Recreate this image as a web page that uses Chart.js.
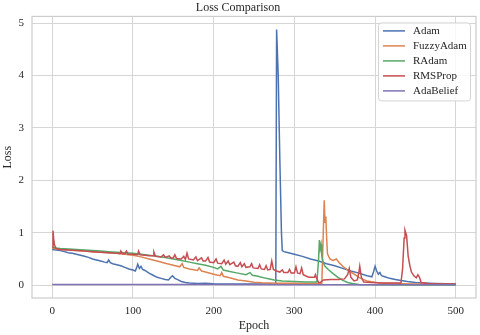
<!DOCTYPE html>
<html>
<head>
<meta charset="utf-8">
<script src="https://cdn.jsdelivr.net/npm/chart.js@4/dist/chart.umd.min.js"></script>
<style>
  html, body { margin: 0; padding: 0; background: #fff; }
</style>
</head>
<body>
<canvas id="chart" width="480" height="335"></canvas>
<script>
const seriesNames = ["Adam", "FuzzyAdam", "RAdam", "RMSProp", "AdaBelief"]
const seriesColors = ["#4c72b0", "#dd8452", "#55a868", "#c44e52", "#8172b3"]
const xTicks = [0, 100, 200, 300, 400, 500]
const yTicks = [0, 1, 2, 3, 4, 5]

const adamEpochs = [0,5,10,15,20,25,30,35,40,45,50,55,60,65,68,70,72,75,80,85,90,95,100,103,105,106,108,110,112,115,120,125,130,135,140,144,147,149,152,156,160,165,170,180,190,195,200,220,240,260,276,277,278,280,282,284,285,287,290,300,310,320,330,340,350,360,370,380,390,396,398,400,402,404,406,408,412,418,425,432,440,450,460,475,490,500]
const adamLoss = [0.68,0.67,0.66,0.64,0.62,0.61,0.59,0.57,0.55,0.53,0.50,0.48,0.46,0.44,0.43,0.48,0.43,0.41,0.39,0.37,0.34,0.31,0.29,0.27,0.35,0.40,0.32,0.36,0.30,0.28,0.23,0.19,0.15,0.13,0.11,0.10,0.15,0.18,0.13,0.10,0.07,0.05,0.04,0.03,0.035,0.03,0.025,0.02,0.02,0.02,0.02,0.03,4.88,4.0,2.4,1.0,0.66,0.64,0.63,0.59,0.55,0.50,0.46,0.41,0.37,0.32,0.27,0.23,0.18,0.16,0.25,0.36,0.27,0.21,0.24,0.18,0.16,0.13,0.11,0.09,0.07,0.05,0.04,0.03,0.025,0.02]

const fuzzyEpochs = [0,5,10,20,30,40,50,60,70,80,90,100,110,120,130,140,150,158,161,163,170,180,182,185,190,200,208,210,212,220,230,240,250,260,270,280,300,320,334,336,337,338,339,340,341,344,348,352,356,360,365,370,375,380,385,390,398,405,420,450,500]
const fuzzyLoss = [0.71,0.69,0.68,0.67,0.66,0.65,0.64,0.63,0.62,0.61,0.59,0.57,0.54,0.50,0.46,0.42,0.38,0.35,0.41,0.34,0.31,0.28,0.33,0.27,0.25,0.21,0.18,0.24,0.17,0.14,0.10,0.08,0.055,0.045,0.04,0.035,0.035,0.03,0.03,1.1,1.62,1.2,1.31,0.9,0.6,0.5,0.47,0.5,0.42,0.36,0.30,0.25,0.20,0.15,0.11,0.08,0.06,0.04,0.03,0.02,0.015]

const radamEpochs = [0,5,10,20,30,40,50,60,70,80,90,100,110,120,130,140,150,160,170,180,190,200,205,209,212,220,230,240,245,248,255,265,275,285,300,315,328,330,331,332,333,334,336,338,342,348,354,360,366,372,380,400,450,500]
const radamLoss = [0.73,0.71,0.70,0.69,0.68,0.67,0.66,0.65,0.64,0.63,0.62,0.61,0.59,0.57,0.55,0.53,0.50,0.47,0.44,0.41,0.38,0.34,0.31,0.36,0.29,0.26,0.23,0.20,0.24,0.19,0.17,0.13,0.10,0.08,0.07,0.06,0.06,0.5,0.86,0.7,0.78,0.55,0.42,0.36,0.3,0.22,0.15,0.09,0.05,0.03,0.015,0.008,0.005,0.003]

const rmsEpochs = [0,1,2,3,5,10,20,30,40,50,60,70,80,84,85,87,90,92,94,100,106,107,109,115,120,125,126,128,135,138,140,145,147,150,152,154,160,163,165,167,169,175,178,180,185,187,190,193,195,200,203,205,210,213,215,218,220,225,227,230,233,235,238,240,245,247,249,255,257,259,263,265,267,270,272,274,278,282,285,287,292,294,296,300,302,304,307,309,311,315,318,325,326,328,330,332,336,345,355,362,366,368,370,374,378,380,381,383,386,395,410,425,432,434,436,437,439,441,443,445,448,451,453,455,457,465,480,500]
const rmsLoss = [0.72,1.04,0.86,0.76,0.70,0.68,0.67,0.66,0.65,0.64,0.63,0.62,0.61,0.60,0.65,0.60,0.60,0.65,0.59,0.59,0.58,0.65,0.58,0.57,0.56,0.56,0.63,0.55,0.54,0.58,0.53,0.56,0.52,0.52,0.58,0.51,0.50,0.55,0.49,0.61,0.50,0.48,0.54,0.47,0.52,0.46,0.46,0.53,0.44,0.43,0.50,0.42,0.41,0.48,0.40,0.46,0.39,0.44,0.37,0.36,0.43,0.35,0.41,0.34,0.35,0.41,0.33,0.32,0.39,0.31,0.30,0.37,0.29,0.30,0.46,0.30,0.27,0.25,0.29,0.24,0.24,0.30,0.23,0.23,0.35,0.23,0.22,0.33,0.20,0.17,0.15,0.15,0.20,0.12,0.05,0.05,0.10,0.11,0.11,0.12,0.20,0.32,0.15,0.08,0.10,0.25,0.36,0.15,0.06,0.05,0.04,0.04,0.04,0.30,0.90,1.05,0.95,0.55,0.38,0.25,0.18,0.14,0.20,0.15,0.05,0.03,0.02,0.02]

const adaEpochs = [0,100,200,300,400,500]
const adaLoss = [0.015,0.012,0.011,0.010,0.009,0.008]

const serif = "'Liberation Serif', 'Times New Roman', serif"
const textColor = "#262626"
const gridColor = "#d6d6d6"

const series = [
  [adamEpochs, adamLoss],
  [fuzzyEpochs, fuzzyLoss],
  [radamEpochs, radamLoss],
  [rmsEpochs, rmsLoss],
  [adaEpochs, adaLoss]
]

const datasets = series.map(([epochs, loss], i) => ({
  label: seriesNames[i],
  data: epochs.map((e, j) => ({ x: e, y: loss[j] })),
  borderColor: seriesColors[i],
  backgroundColor: seriesColors[i],
  borderWidth: 1.5,
  pointRadius: 0,
  tension: 0,
  order: series.length - i
}))

// frame around plot + matplotlib-like legend inside the axes
const framePlugin = {
  id: "frame",
  afterDraw(chart) {
    const { ctx, chartArea: a } = chart
    ctx.save()
    ctx.strokeStyle = "#cccccc"
    ctx.lineWidth = 1.2
    ctx.strokeRect(a.left, a.top, a.right - a.left, a.bottom - a.top)

    const boxW = 92, boxH = 78
    const x0 = a.right - 6 - boxW, y0 = a.top + 6
    ctx.beginPath()
    ctx.roundRect(x0 + 0.5, y0 + 0.5, boxW, boxH, 3)
    ctx.fillStyle = "rgba(255,255,255,0.8)"
    ctx.fill()
    ctx.strokeStyle = "#d4d4d4"
    ctx.lineWidth = 1
    ctx.stroke()

    ctx.font = "11px " + serif
    ctx.textBaseline = "middle"
    ctx.fillStyle = textColor
    chart.data.datasets.forEach((ds, i) => {
      const y = y0 + 8.5 + i * 15
      ctx.beginPath()
      ctx.moveTo(x0 + 5, y)
      ctx.lineTo(x0 + 27, y)
      ctx.strokeStyle = ds.borderColor
      ctx.lineWidth = 1.5
      ctx.stroke()
      ctx.fillText(ds.label, x0 + 35, y + 0.5)
    })
    ctx.restore()
  }
}

new Chart(document.getElementById("chart"), {
  type: "line",
  data: { datasets },
  plugins: [framePlugin],
  options: {
    responsive: false,
    animation: false,
    layout: { padding: { left: 0, right: 4, top: 0, bottom: 0 } },
    plugins: {
      legend: { display: false },
      tooltip: { enabled: false },
      title: {
        display: true,
        text: "Loss Comparison",
        color: textColor,
        font: { family: serif, size: 12, weight: "normal" },
        padding: { top: 1, bottom: 1 }
      }
    },
    scales: {
      x: {
        type: "linear",
        min: -25,
        max: 525,
        afterBuildTicks: s => { s.ticks = xTicks.map(v => ({ value: v })) },
        afterFit: s => { s.height = 37 },
        ticks: { color: textColor, font: { family: serif, size: 11 }, padding: 7, maxRotation: 0 },
        grid: { color: gridColor, drawTicks: false },
        border: { display: false },
        title: {
          display: true,
          text: "Epoch",
          color: textColor,
          font: { family: serif, size: 12 },
          padding: { top: 0, bottom: 2 }
        }
      },
      y: {
        min: -0.245,
        max: 5.13,
        afterBuildTicks: s => { s.ticks = yTicks.map(v => ({ value: v })) },
        afterFit: s => { s.width = 32 },
        ticks: { color: textColor, font: { family: serif, size: 11 }, padding: 8 },
        grid: { color: gridColor, drawTicks: false },
        border: { display: false },
        title: {
          display: true,
          text: "Loss",
          color: textColor,
          font: { family: serif, size: 12 },
          padding: { top: 1, bottom: 0 }
        }
      }
    }
  }
})
</script>
</body>
</html>
